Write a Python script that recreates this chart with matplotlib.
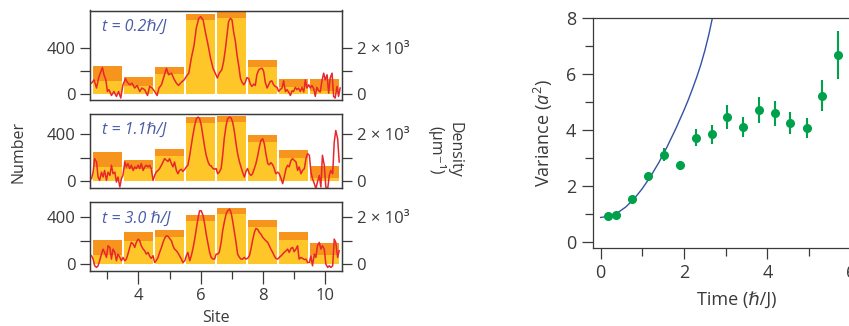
import numpy as np
import matplotlib
matplotlib.use('Agg')
import matplotlib.pyplot as plt
from matplotlib.ticker import FixedLocator

plt.rcParams['font.family'] = ['Open Sans', 'DejaVu Sans']
plt.rcParams['mathtext.fontset'] = 'custom'
plt.rcParams['mathtext.rm'] = 'Open Sans'
plt.rcParams['mathtext.it'] = 'Open Sans:italic'

# ---- dane: liczba atomow na wezel (dolna / gorna wartosc slupka) ----
sites = [3, 4, 5, 6, 7, 8, 9, 10]
low_t02 = [114, 69, 174, 634, 654, 229, 57, 29]
high_t02 = [240, 146, 231, 686, 706, 291, 126, 129]
low_t11 = [124, 101, 214, 496, 504, 332, 200, 31]
high_t11 = [248, 180, 273, 546, 555, 392, 268, 130]
low_t30 = [78, 199, 229, 364, 425, 313, 207, 78]
high_t30 = [207, 271, 291, 414, 476, 375, 271, 179]

# ---- profil gestosci (um^-1) ----
pos_a = [2.49, 2.57, 2.65, 2.72, 2.79, 2.84, 2.89, 2.95, 3.00, 3.05,
         3.13, 3.21, 3.29, 3.36, 3.43, 3.50, 3.58, 3.64, 3.72, 3.79,
         3.88, 3.96, 4.04, 4.11, 4.20, 4.29, 4.36, 4.44, 4.52, 4.60,
         4.66, 4.74, 4.82, 4.90, 4.97, 5.06, 5.14, 5.22, 5.29, 5.38,
         5.47, 5.54, 5.62, 5.70, 5.79, 5.86, 5.94, 6.00, 6.08, 6.15,
         6.24, 6.32, 6.40, 6.47, 6.54,
         6.60, 6.68, 6.74, 6.80, 6.85, 6.90, 6.96, 7.01, 7.06, 7.12,
         7.17, 7.23, 7.28, 7.33, 7.39, 7.44, 7.49, 7.55, 7.60, 7.65,
         7.71, 7.76, 7.81, 7.87, 7.92, 7.98, 8.03, 8.08, 8.14, 8.19,
         8.24, 8.29, 8.35, 8.40, 8.46, 8.51, 8.56, 8.62, 8.67, 8.73,
         8.78, 8.83, 8.89, 8.94, 8.99, 9.05, 9.10, 9.15, 9.21, 9.26,
         9.32, 9.37, 9.42, 9.48, 9.53, 9.58, 9.64, 9.69, 9.74, 9.80,
         9.85, 9.90, 9.96, 10.01, 10.07, 10.12, 10.17, 10.23, 10.28, 10.33,
         10.39, 10.44, 10.49]
dens_t02 = [470, 610, 260, 710, 970, 1140, 830, 610, 110, 190,
            -60, 110, -100, 110, -170, 400, 660, 510, 400, 470,
            260, 370, 110, 260, 190, -60, 330, 260, 110, -60,
            260, 400, 760, 1110, 830, 900, 660, 470, 370, 510,
            610, 760, 900, 1540, 2110, 2830, 3260, 3330, 3190, 2690,
            2110, 1540, 1110, 900, 690,
            900, 1040, 1400, 1970, 2540, 3120, 3260, 3190, 2690, 2260,
            1690, 1190, 690, 510, 400, 510, 710, 660, 430, 330,
            430, 370, 830, 1040, 1090, 1110, 970, 510, 260, 400,
            540, 570, 400, 330, 290, 110, 190, 260, 570, 110,
            190, 90, -60, 140, 110, 290, 190, 260, 110, 290,
            90, 610, 260, 400, 260, 370, 230, -100, 290, 140,
            90, 540, 900, 610, 830, 40, 690, 900, -100, -170,
            330, -100, 260]

pos_b = [2.49, 2.54, 2.59, 2.65, 2.70, 2.75, 2.81, 2.86, 2.91, 2.97,
         3.02, 3.08, 3.13, 3.18, 3.24, 3.29, 3.34, 3.40, 3.45, 3.50,
         3.56, 3.61, 3.66, 3.72, 3.77, 3.83, 3.88, 3.93, 3.99, 4.04,
         4.09, 4.15, 4.20, 4.25, 4.31, 4.36, 4.41, 4.47, 4.52, 4.57,
         4.63, 4.68, 4.74, 4.79, 4.84, 4.90, 4.95, 5.00, 5.06, 5.11,
         5.16, 5.22, 5.27, 5.32, 5.38, 5.43, 5.49, 5.54, 5.59, 5.65,
         5.70, 5.75, 5.81, 5.86, 5.92, 5.97, 6.02, 6.08, 6.13, 6.18,
         6.24, 6.29, 6.34, 6.40, 6.45, 6.50,
         6.55, 6.60, 6.66, 6.71, 6.76, 6.82, 6.87, 6.93, 6.98, 7.03,
         7.09, 7.14, 7.19, 7.25, 7.30, 7.35, 7.41, 7.46, 7.51, 7.57,
         7.62, 7.67, 7.73, 7.78, 7.84, 7.89, 7.94, 8.00, 8.05, 8.10,
         8.16, 8.21, 8.26, 8.32, 8.37, 8.42, 8.48, 8.53, 8.59, 8.64,
         8.69, 8.75, 8.80, 8.85, 8.91, 8.96, 9.01, 9.07, 9.12, 9.17,
         9.23, 9.28, 9.34, 9.39, 9.44, 9.50, 9.55, 9.60, 9.66, 9.71,
         9.76, 9.82, 9.87, 9.92, 9.98, 10.03, 10.09, 10.14, 10.19, 10.25,
         10.30, 10.35, 10.41, 10.46]
dens_t11 = [110, 390, 960, 820, 180, 40, 390, 180, 460, 40,
            390, 250, 680, 320, 390, -30, 180, -240, 110, 250,
            820, 610, 750, 540, 680, 460, 610, 540, 680, 540,
            750, 460, 610, 680, 610, 680, 540, 40, 250, 390,
            460, 540, 680, 820, 960, 890, 840, 960, 750, 610,
            820, 460, 320, 460, 510, 420, 510, 610, 680, 1100,
            1520, 1940, 2370, 2650, 2720, 2650, 2370, 1870, 1450, 1100,
            820, 680, 650, 540, 510, 540,
            320, 390, 540, 1100, 1800, 2370, 2650, 2720, 2680, 2510,
            2080, 1590, 1170, 820, 610, 390, 180, 420, 540, 320,
            250, 320, 540, 750, 1100, 1450, 1730, 1800, 1590, 1170,
            750, 700, 790, 700, 540, 320, 390, 320, 110, -100,
            180, 540, 680, 610, 890, 960, 890, 820, 460, 610,
            320, 460, 540, 960, 1170, 1100, 390, 110, -100, -310,
            -30, 250, -240, 1100, 680, -240, -310, 250, 460, 320,
            1660, 2150, 1800, 820]
dens_t30 = [360, 220, -60, -130, -60, 150, 430, 640, 500, 290,
            780, 710, 220, 640, 500, 150, 430, 290, 150, 290,
            150, 220, 430, 710, 920, 850, 710, 920, 1060, 990,
            780, 640, 570, 430, 500, 340, 250, 360, 80, 150,
            290, 500, 710, 920, 1090, 1200, 1180, 1090, 990, 780,
            640, 570, 480, 360, 220, 80, 150, 360, 500, 150,
            360, 640, 1060, 1480, 1970, 2250, 2250, 2040, 1690, 1270,
            850, 500, 290, 220, 220, 430,
            430, 500, 920, 1410, 1760, 2110, 2250, 2320, 2180, 1830,
            1340, 920, 430, 290, 220, 220, 290, 220, 250, 360,
            640, 990, 1340, 1510, 1460, 1340, 1270, 1130, 1060, 990,
            920, 780, 640, 500, 360, 250, 220, 290, 360, 430,
            500, 570, 640, 500, 670, 710, 530, 640, 780, 220,
            290, 250, 200, 220, 80, 80, 360, -60, 430, 290,
            780, 920, 640, 780, 640, 10, -130, -60, -130, -60,
            1060, 920, 290, 570]

# ---- wariancja w czasie ----
czas = [0.18, 0.38, 0.76, 1.13, 1.51, 1.90, 2.28, 2.66, 3.04, 3.42,
        3.79, 4.18, 4.55, 4.94, 5.31, 5.70]
wariancja = [0.94, 0.98, 1.54, 2.37, 3.13, 2.75, 3.74, 3.86, 4.48, 4.12,
             4.73, 4.61, 4.27, 4.08, 5.24, 6.70]
blad = [0.05, 0.05, 0.08, 0.12, 0.23, 0.17, 0.31, 0.33, 0.42, 0.37,
        0.46, 0.44, 0.40, 0.37, 0.56, 0.86]
# krzywa teoretyczna
t_teoria = [0.0, 0.2, 0.4, 0.6, 0.8, 1.0, 1.2, 1.4, 1.6, 1.8, 2.0, 2.1, 2.2,
            2.3, 2.4, 2.5, 2.6, 2.7]
v_teoria = [0.89, 0.93, 1.05, 1.26, 1.55, 1.92, 2.36, 2.86, 3.43, 4.05, 4.72, 5.08,
            5.47, 5.88, 6.33, 6.85, 7.45, 8.15]

panele = [
    ('t = 0.2ℏ/J', low_t02, high_t02, pos_a, dens_t02, (-51, 719)),
    ('t = 1.1ℏ/J', low_t11, high_t11, pos_b, dens_t11, (-54, 567)),
    ('t = 3.0 ℏ/J', low_t30, high_t30, pos_b, dens_t30, (-56, 526)),
]

W, H = 849, 326
fig = plt.figure(figsize=(W / 100, H / 100), dpi=100)
ciemny = '#3a3a3a'
pomaranczowy = '#F7941D'
zolty = '#FFC629'
czerwony = '#E8262D'
niebieski = '#4A5BA6'


def osie(x0, y0, x1, y1):
    return fig.add_axes([x0 / W, 1 - y1 / H, (x1 - x0) / W, (y1 - y0) / H])


granice_y = [(10.5, 100), (114.3, 187.7), (201.7, 271)]

for i, (napis, dol, gora, pos, dens, ylim) in enumerate(panele):
    ax = osie(90, granice_y[i][0], 342, granice_y[i][1])
    ax.bar(sites, gora, width=0.93, color=pomaranczowy, linewidth=0)
    ax.bar(sites, dol, width=0.93, color=zolty, linewidth=0)
    ax.set_xlim(2.44, 10.55)
    ax.set_ylim(*ylim)
    ax.set_yticks([0, 400])
    ax.yaxis.set_minor_locator(FixedLocator([200]))
    ax.tick_params(axis='y', which='both', direction='out', length=7.5, width=0.9,
                   colors=ciemny, labelsize=12, pad=3)
    ax.text(0.046, 0.77 - 0.04 * i, napis, transform=ax.transAxes, style='italic',
            color=niebieski, fontsize=11.5, va='baseline')

    ax2 = ax.twinx()
    ax2.plot(pos, dens, color=czerwony, linewidth=1.1)
    ax2.set_ylim(5 * ylim[0], 5 * ylim[1])
    ax2.set_xlim(2.44, 10.55)
    ax2.set_yticks([0, 2000])
    ax2.set_yticklabels(['0', '2 × 10³'])
    ax2.yaxis.set_minor_locator(FixedLocator([1000]))
    ax2.tick_params(axis='y', which='both', direction='out', length=7.5, width=0.9,
                    colors=ciemny, labelsize=12, pad=3)

    for a in (ax, ax2):
        for s in a.spines.values():
            s.set_color(ciemny)
            s.set_linewidth(0.9)

    if i < 2:
        ax.tick_params(axis='x', which='both', bottom=False, labelbottom=False)
    else:
        ax.set_xticks([4, 6, 8, 10])
        ax.xaxis.set_minor_locator(FixedLocator([3, 5, 7, 9]))
        ax.tick_params(axis='x', which='major', direction='out', length=9, width=0.9,
                       colors=ciemny, labelsize=12, pad=3)
        ax.tick_params(axis='x', which='minor', direction='out', length=6, width=0.9,
                       colors=ciemny)

fig.text(18 / W, 1 - 152 / H, 'Number', rotation=90, ha='center', va='center',
         fontsize=11.5, color=ciemny)
fig.text(445 / W, 1 - 150 / H, 'Density\n(µm⁻¹)', rotation=270, ha='center', va='center',
         multialignment='center', linespacing=1.1, fontsize=11.5, color=ciemny)
fig.text(216 / W, 1 - 318 / H, 'Site', ha='center', va='center', fontsize=11.5, color=ciemny)

# ---- prawy wykres ----
axr = osie(592.7, 18.3, 880, 247.7)
axr.plot(t_teoria, v_teoria, color='#3551A4', linewidth=1)
axr.errorbar(czas, wariancja, yerr=blad, fmt='o', color='#00A14B', markersize=5.5,
             elinewidth=1.5, capsize=0)
axr.set_xlim(-0.19, 6.7)
axr.set_ylim(-0.19, 8)
axr.set_xticks([0, 2, 4, 6])
axr.xaxis.set_minor_locator(FixedLocator([1, 3, 5]))
axr.set_yticks([0, 2, 4, 6, 8])
axr.yaxis.set_minor_locator(FixedLocator([1, 3, 5, 7]))
axr.tick_params(which='major', direction='out', length=8, width=0.9, colors=ciemny,
                labelsize=13, pad=4)
axr.tick_params(which='minor', direction='out', length=5.5, width=0.9, colors=ciemny)
axr.spines['right'].set_visible(False)
for s in axr.spines.values():
    s.set_color(ciemny)
    s.set_linewidth(0.9)
axr.set_xlabel('Time (ℏ/J)', fontsize=13, color=ciemny, labelpad=6)
axr.set_ylabel('Variance ($a^2$)', fontsize=13, color=ciemny, labelpad=8)

fig.savefig('out.png', dpi=100)
